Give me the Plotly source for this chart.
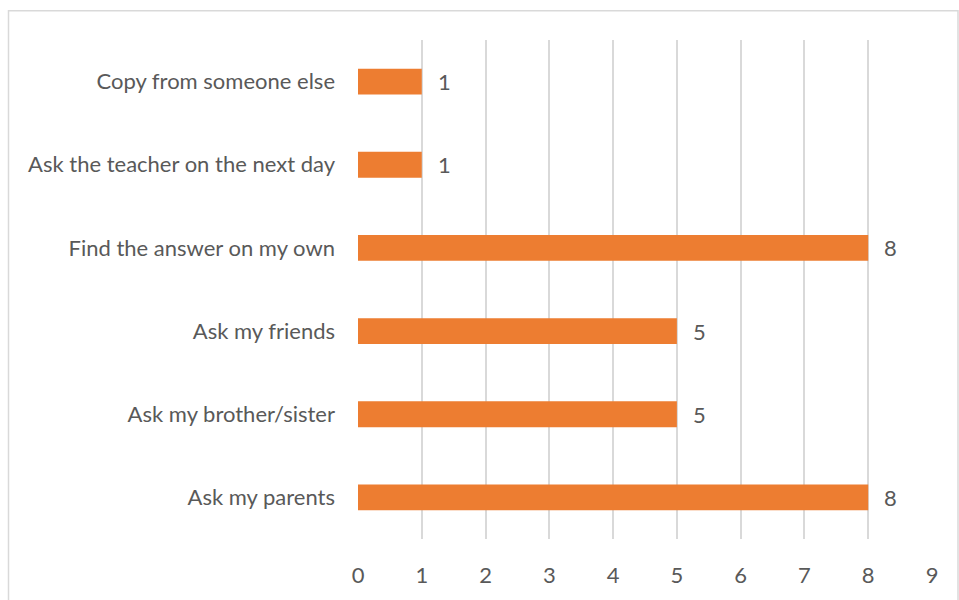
import plotly.graph_objects as go

# Survey responses: what pupils do when they don't know the answer
categories = [
    "Ask my parents",
    "Ask my brother/sister",
    "Ask my friends",
    "Find the answer on my own",
    "Ask the teacher on the next day",
    "Copy from someone else",
]
counts = [8, 5, 5, 8, 1, 1]
x_ticks = [0, 1, 2, 3, 4, 5, 6, 7, 8, 9]

BAR_COLOR = "#ED7D31"
TEXT_COLOR = "#595959"
GRID_COLOR = "#D9D9D9"
FONT = "Lato, Calibri, sans-serif"
FS = 22

W, H = 959, 600
ML, MR, MT, MB = 358, 27, 40, 57

fig = go.Figure()
fig.add_trace(go.Bar(
    x=counts,
    y=categories,
    orientation="h",
    marker=dict(color=BAR_COLOR, line=dict(width=0)),
    width=0.31,
    hoverinfo="x+y",
))

# Value labels just right of each bar end
for cat, val in zip(categories, counts):
    fig.add_annotation(
        x=val, y=cat, text=str(val), showarrow=False,
        xanchor="left", xshift=14,
        font=dict(family=FONT, size=FS, color=TEXT_COLOR),
    )

# Outer chart border (light grey frame)
pw, ph = W - ML - MR, H - MT - MB
fig.add_shape(
    type="rect", xref="paper", yref="paper",
    x0=(8.5 - ML) / pw, x1=(958 - ML) / pw,
    y0=-(H + 20 - MT - ph) / ph, y1=(H - 10.5 - (H - MT - ph)) / ph,
    line=dict(color=GRID_COLOR, width=1.5),
    layer="below",
)

fig.update_layout(
    width=W, height=H,
    margin=dict(l=ML, r=MR, t=MT, b=MB, pad=0),
    paper_bgcolor="white",
    plot_bgcolor="white",
    showlegend=False,
    font=dict(family=FONT, size=FS, color=TEXT_COLOR),
    xaxis=dict(
        range=[0, 9],
        tickvals=x_ticks,
        showgrid=True, gridcolor=GRID_COLOR, gridwidth=2,
        zeroline=False, showline=False,
        ticks="", ticklabelstandoff=21,
        tickfont=dict(family=FONT, size=FS, color=TEXT_COLOR),
        fixedrange=True,
    ),
    yaxis=dict(
        categoryorder="array", categoryarray=categories,
        showgrid=False, zeroline=False, showline=False,
        ticks="", ticklabelstandoff=22,
        tickfont=dict(family=FONT, size=FS, color=TEXT_COLOR),
        fixedrange=True,
    ),
)

fig.write_html("out.html")
